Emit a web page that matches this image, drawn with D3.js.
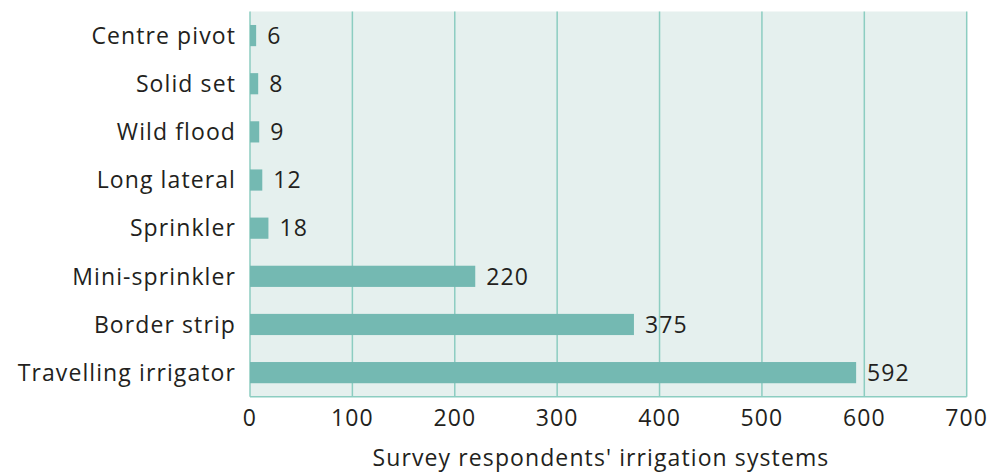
<!DOCTYPE html>
<html><head><meta charset="utf-8">
<script src="https://cdn.jsdelivr.net/npm/d3@7"></script>
<style>body{margin:0;background:#fff;} text{font-family:"Open Sans",sans-serif;fill:#231f20;letter-spacing:1.1px;}</style>
</head><body>
<svg id="c" width="997" height="472"></svg>
<script>
const categories = ["Centre pivot","Solid set","Wild flood","Long lateral","Sprinkler","Mini-sprinkler","Border strip","Travelling irrigator"];
const values = [6,8,9,12,18,220,375,592];
const xTicks = [0,100,200,300,400,500,600,700];
const axisTitle = "Survey respondents' irrigation systems";

const svg = d3.select("#c");
const m = {left:250, top:11.5, bottom:396.7};
const FS = 23;
const x = d3.scaleLinear().domain([0,700]).range([m.left, 966.7]);
const y = d3.scaleBand().domain(categories).range([m.top, m.bottom]).paddingInner(0.56).paddingOuter(0.28);

svg.append("rect").attr("x",x(0)).attr("y",m.top).attr("width",x(700)-x(0)).attr("height",m.bottom-m.top)
  .attr("fill","#e5f0ee");
svg.append("g").selectAll("line").data(xTicks).join("line")
  .attr("x1",d=>x(d)).attr("x2",d=>x(d)).attr("y1",m.top).attr("y2",m.bottom)
  .attr("stroke","#8ccdc1").attr("stroke-width",1.5);
svg.append("line").attr("x1",x(0)).attr("x2",x(700)).attr("y1",m.bottom).attr("y2",m.bottom)
  .attr("stroke","#8ccdc1").attr("stroke-width",1.5);

svg.append("g").selectAll("rect").data(categories).join("rect")
  .attr("x",x(0)).attr("y",d=>y(d)).attr("height",y.bandwidth())
  .attr("width",(d,i)=>x(values[i])-x(0)).attr("fill","#74b9b2");

svg.append("g").selectAll("text").data(categories).join("text")
  .attr("x",(d,i)=>x(values[i])+11).attr("y",d=>y(d)+y.bandwidth()/2)
  .attr("dy","0.36em").attr("font-size",FS).text((d,i)=>values[i]);

svg.append("g").selectAll("text").data(categories).join("text")
  .attr("x",236).attr("y",d=>y(d)+y.bandwidth()/2).attr("dy","0.36em")
  .attr("text-anchor","end").attr("font-size",FS).text(d=>d);

svg.append("g").selectAll("text").data(xTicks).join("text")
  .attr("x",d=>x(d)).attr("y",418).attr("dy","0.36em")
  .attr("text-anchor","middle").attr("font-size",FS).text(d=>d);

svg.append("text").attr("x",601).attr("y",466)
  .attr("text-anchor","middle").attr("font-size",FS).text(axisTitle);
</script>
</body></html>
